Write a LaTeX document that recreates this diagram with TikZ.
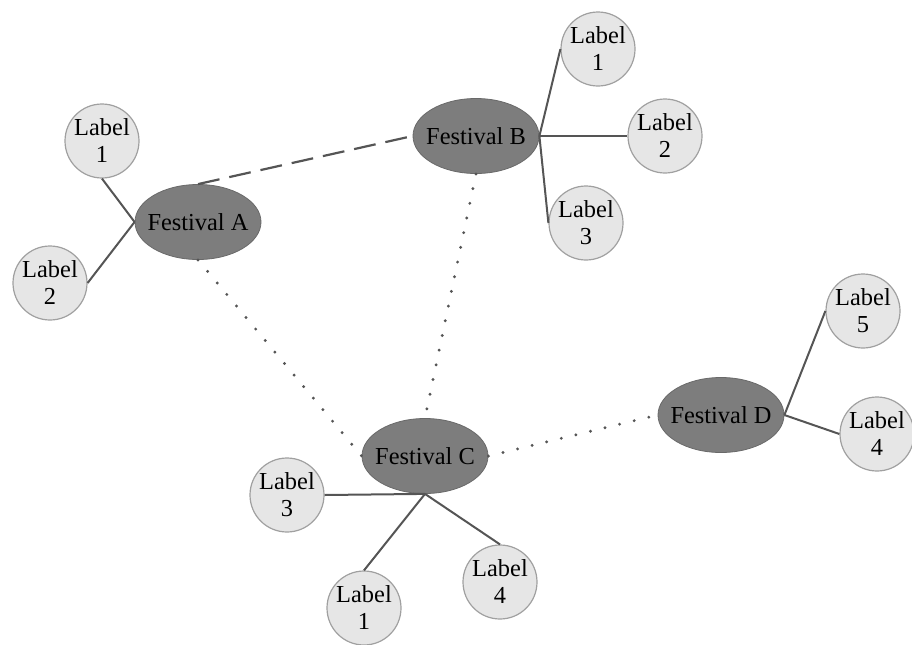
\documentclass[tikz,border=0pt]{standalone}
\usepackage{fontspec}
\setmainfont{Liberation Serif}
\usepackage{tikz}
\usetikzlibrary{shapes.geometric}

\definecolor{festfill}{RGB}{125,125,125}
\definecolor{festline}{RGB}{105,105,105}
\definecolor{tagfill}{RGB}{230,230,230}
\definecolor{tagline}{RGB}{160,160,160}
\definecolor{linkcol}{RGB}{85,85,85}

\begin{document}
\begin{tikzpicture}[x=0.5pt, y=-0.5pt,
  festival/.style={draw=festline, fill=festfill, ellipse, minimum width=63pt,
    minimum height=37.5pt, inner sep=0pt, font=\fontsize{12.2}{13.5}\selectfont},
  tag/.style={draw=tagline, fill=tagfill, line width=0.6pt, circle, minimum size=37pt,
    inner sep=0pt, align=center, font=\fontsize{12.2}{13.5}\selectfont},
  spoke/.style={draw=linkcol, line width=1pt},
  tie/.style={draw=linkcol, line width=1.1pt, dash pattern=on 11pt off 5pt},
  loose/.style={draw=linkcol, line width=1.6pt, line cap=round, dash pattern=on 0pt off 7.5pt}]
\useasboundingbox (0,0) rectangle (912,644);
  % Festivals
  \node[festival] (fa) at (198,222) {\makebox[0pt]{Festival A}};
  \node[festival] (fb) at (476,136) {\makebox[0pt]{Festival B}};
  \node[festival] (fc) at (425,456) {\makebox[0pt]{Festival C}};
  \node[festival] (fd) at (721,415) {\makebox[0pt]{Festival D}};
  % Labels of A
  \node[tag] (a1) at (102,141) {Label\\1};
  \node[tag] (a2) at (50,283) {Label\\2};
  % Labels of B
  \node[tag] (b1) at (598,49) {Label\\1};
  \node[tag] (b2) at (665,136) {Label\\2};
  \node[tag] (b3) at (586,223) {Label\\3};
  % Labels of C
  \node[tag] (c3) at (287,495) {Label\\3};
  \node[tag] (c1) at (364,608) {Label\\1};
  \node[tag] (c4) at (500,582) {Label\\4};
  % Labels of D
  \node[tag] (d5) at (863,311) {Label\\5};
  \node[tag] (d4) at (877,434) {Label\\4};
  % Spokes
  \draw[spoke] (fa.west) -- (a1.south);
  \draw[spoke] (fa.west) -- (a2.east);
  \draw[spoke] (fb.east) -- (b1.west);
  \draw[spoke] (fb.east) -- (b2.west);
  \draw[spoke] (fb.east) -- (b3.west);
  \draw[spoke] (fc.south) -- (c3.east);
  \draw[spoke] (fc.south) -- (c1.north);
  \draw[spoke] (fc.south) -- (c4.north);
  \draw[spoke] (fd.east) -- (d5.west);
  \draw[spoke] (fd.east) -- (d4.west);
  % Ties between festivals
  \draw[tie] (fa.north) -- (fb.west);
  \draw[loose] (fa.south) -- (fc.west);
  \draw[loose] (fb.south) -- (fc.north);
  \draw[loose] (fc.east) -- (fd.west);
\end{tikzpicture}
\end{document}
